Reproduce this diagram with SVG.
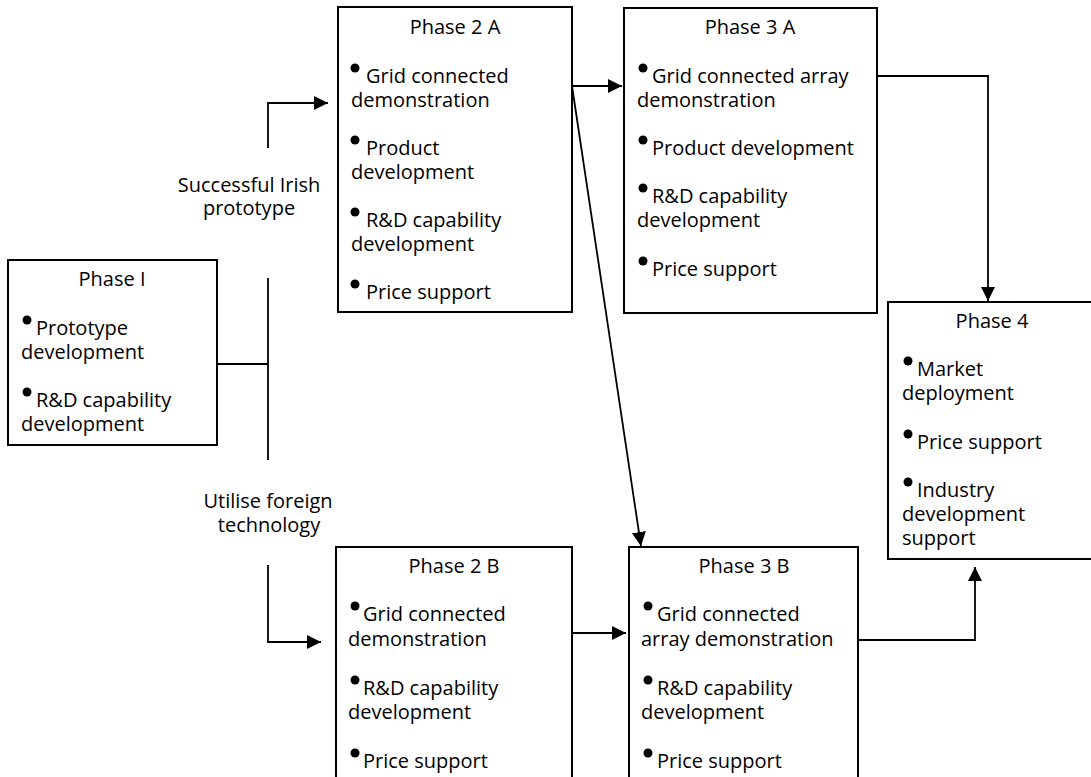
<svg xmlns="http://www.w3.org/2000/svg" width="1091" height="777" viewBox="0 0 1091 777">
<style>
.box{fill:#fff;stroke:#000;stroke-width:2}
.t{font-family:"Open Sans","Liberation Sans",sans-serif;font-size:20px;fill:#000}
.c{text-anchor:middle}
.dot{fill:#000}
.ln{fill:none;stroke:#000;stroke-width:1.8}
</style>
<defs>
<marker id="arr" markerUnits="userSpaceOnUse" markerWidth="14" markerHeight="14" refX="14" refY="7" orient="auto">
<path d="M0,0 L14,7 L0,14 z" fill="#000"/>
</marker>
</defs>
<rect width="1091" height="777" fill="#fff"/>
<g id="connectors">
<path class="ln" d="M217,364 H268"/>
<path class="ln" d="M268,278 V460"/>
<path class="ln" d="M268,148 V103 H328" marker-end="url(#arr)"/>
<path class="ln" d="M268,565 V642 H321" marker-end="url(#arr)"/>
<path class="ln" d="M572,86 H622" marker-end="url(#arr)"/>
<path class="ln" d="M572,86 L641,546" marker-end="url(#arr)"/>
<path class="ln" d="M877,76 H988 V301" marker-end="url(#arr)"/>
<path class="ln" d="M572,633 H626" marker-end="url(#arr)"/>
<path class="ln" d="M858,640 H975 V567" marker-end="url(#arr)"/>
</g>
<g id="labels">
<text class="t c" x="249" y="192">Successful Irish<tspan x="249" y="215">prototype</tspan></text>
<text class="t c" x="268" y="508">Utilise foreign<tspan x="269" y="532">technology</tspan></text>
</g>
<g id="phase1">
<rect class="box" x="8" y="260" width="209" height="185"/>
<text class="t c" x="112" y="286">Phase I</text>
<circle class="dot" cx="27" cy="320" r="4.5"/>
<text class="t" x="36" y="335">Prototype<tspan x="21" y="359">development</tspan></text>
<circle class="dot" cx="27" cy="392" r="4.5"/>
<text class="t" x="36" y="407">R&amp;D capability<tspan x="21" y="431">development</tspan></text>
</g>
<g id="phase2a">
<rect class="box" x="338" y="7" width="234" height="305"/>
<text class="t c" x="455" y="34">Phase 2 A</text>
<circle class="dot" cx="355" cy="68" r="4.5"/>
<text class="t" x="366" y="83">Grid connected<tspan x="351" y="107">demonstration</tspan></text>
<circle class="dot" cx="355" cy="140" r="4.5"/>
<text class="t" x="366" y="155">Product<tspan x="351" y="179">development</tspan></text>
<circle class="dot" cx="355" cy="212" r="4.5"/>
<text class="t" x="366" y="227">R&amp;D capability<tspan x="351" y="251">development</tspan></text>
<circle class="dot" cx="355" cy="284" r="4.5"/>
<text class="t" x="366" y="299">Price support</text>
</g>
<g id="phase3a">
<rect class="box" x="624" y="8" width="253" height="305"/>
<text class="t c" x="750" y="34">Phase 3 A</text>
<circle class="dot" cx="643" cy="68" r="4.5"/>
<text class="t" x="652" y="83">Grid connected array<tspan x="637" y="107">demonstration</tspan></text>
<circle class="dot" cx="643" cy="140" r="4.5"/>
<text class="t" x="652" y="155">Product development</text>
<circle class="dot" cx="643" cy="188" r="4.5"/>
<text class="t" x="652" y="203">R&amp;D capability<tspan x="637" y="227">development</tspan></text>
<circle class="dot" cx="643" cy="261" r="4.5"/>
<text class="t" x="652" y="276">Price support</text>
</g>
<g id="phase4">
<rect class="box" x="888" y="302" width="210" height="257"/>
<text class="t c" x="992" y="328">Phase 4</text>
<circle class="dot" cx="908" cy="361" r="4.5"/>
<text class="t" x="917" y="376">Market<tspan x="902" y="400">deployment</tspan></text>
<circle class="dot" cx="908" cy="434" r="4.5"/>
<text class="t" x="917" y="449">Price support</text>
<circle class="dot" cx="908" cy="482" r="4.5"/>
<text class="t" x="917" y="497">Industry<tspan x="902" y="521">development</tspan><tspan x="902" y="545">support</tspan></text>
</g>
<g id="phase2b">
<rect class="box" x="336" y="547" width="236" height="260"/>
<text class="t c" x="454" y="573">Phase 2 B</text>
<circle class="dot" cx="355" cy="606" r="4.5"/>
<text class="t" x="363" y="621">Grid connected<tspan x="348" y="646">demonstration</tspan></text>
<circle class="dot" cx="355" cy="680" r="4.5"/>
<text class="t" x="363" y="695">R&amp;D capability<tspan x="348" y="719">development</tspan></text>
<circle class="dot" cx="355" cy="753" r="4.5"/>
<text class="t" x="363" y="768">Price support</text>
</g>
<g id="phase3b">
<rect class="box" x="629" y="547" width="229" height="260"/>
<text class="t c" x="744" y="573">Phase 3 B</text>
<circle class="dot" cx="648" cy="606" r="4.5"/>
<text class="t" x="657" y="621">Grid connected<tspan x="641" y="646">array demonstration</tspan></text>
<circle class="dot" cx="648" cy="680" r="4.5"/>
<text class="t" x="657" y="695">R&amp;D capability<tspan x="641" y="719">development</tspan></text>
<circle class="dot" cx="648" cy="753" r="4.5"/>
<text class="t" x="657" y="768">Price support</text>
</g>
</svg>
